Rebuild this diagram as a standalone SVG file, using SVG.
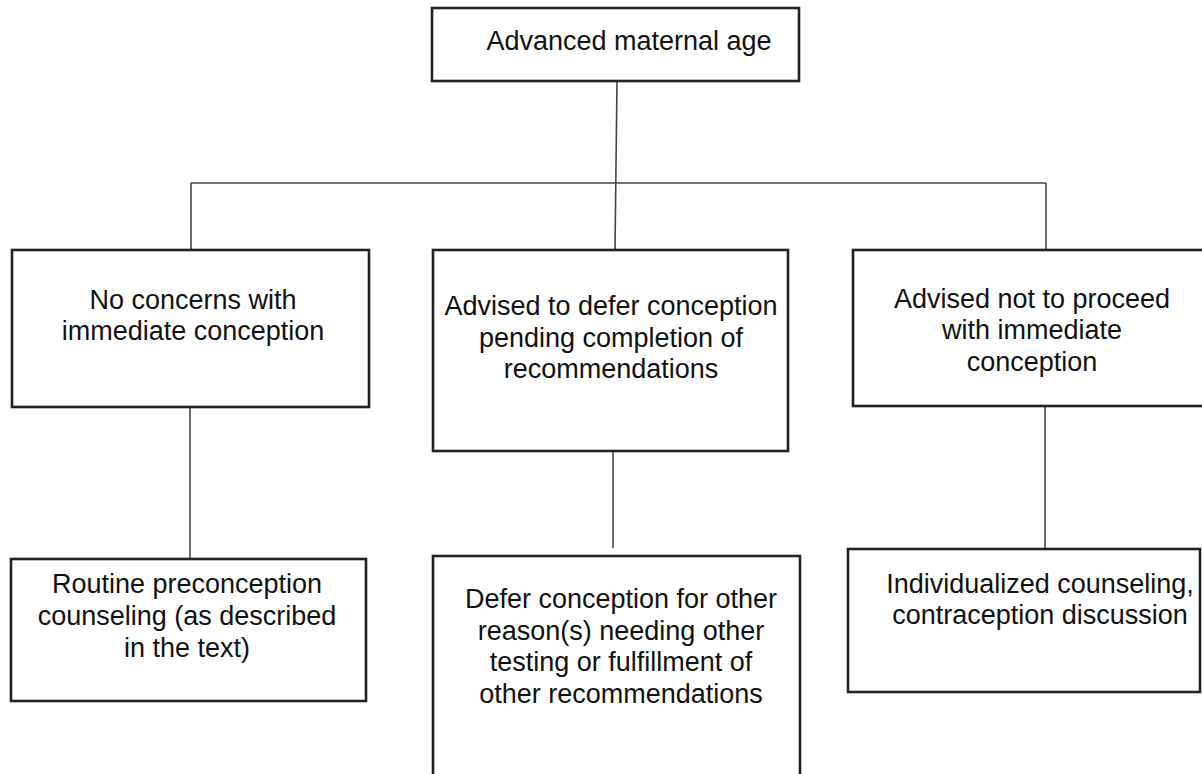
<svg xmlns="http://www.w3.org/2000/svg" width="1202" height="774" viewBox="0 0 1202 774">
<style>
.box{fill:#fff;stroke:#222;stroke-width:2.6}
.lbl{font-family:"Liberation Sans",Arial,sans-serif;font-size:27px;fill:#111;text-anchor:middle}
.con{fill:none;stroke:#444;stroke-width:1.6}
</style>
<rect width="1202" height="774" fill="#fff"/>
<g id="connectors">
<path class="con" d="M617,81 L615,250"/>
<path class="con" d="M191,183 H1046"/>
<path class="con" d="M191,183 V250"/>
<path class="con" d="M1046,183 V250"/>
<path class="con" d="M190,407 V559"/>
<path class="con" d="M613,452 V548"/>
<path class="con" d="M1045,407 V549"/>
</g>
<g id="n-top">
<rect class="box" x="432" y="8" width="367" height="73"/>
<text class="lbl" x="629" y="50">Advanced maternal age</text>
</g>
<g id="n-no-concerns">
<rect class="box" x="12" y="250" width="357" height="157"/>
<text class="lbl" x="193" y="309">No concerns with</text>
<text class="lbl" x="193" y="340">immediate conception</text>
</g>
<g id="n-defer">
<rect class="box" x="433" y="250" width="355" height="201"/>
<text class="lbl" x="611" y="315">Advised to defer conception</text>
<text class="lbl" x="611" y="347">pending completion of</text>
<text class="lbl" x="611" y="378">recommendations</text>
</g>
<g id="n-not-proceed">
<rect class="box" x="853" y="250" width="362" height="156"/>
<text class="lbl" x="1032" y="308">Advised not to proceed</text>
<text class="lbl" x="1032" y="339">with immediate</text>
<text class="lbl" x="1032" y="371">conception</text>
</g>
<g id="n-routine">
<rect class="box" x="11" y="559" width="355" height="142"/>
<text class="lbl" x="187" y="593">Routine preconception</text>
<text class="lbl" x="187" y="625">counseling (as described</text>
<text class="lbl" x="187" y="657">in the text)</text>
</g>
<g id="n-defer-other">
<rect class="box" x="433" y="556" width="367" height="240"/>
<text class="lbl" x="621" y="608">Defer conception for other</text>
<text class="lbl" x="621" y="640">reason(s) needing other</text>
<text class="lbl" x="621" y="671">testing or fulfillment of</text>
<text class="lbl" x="621" y="703">other recommendations</text>
</g>
<g id="n-individualized">
<rect class="box" x="848" y="549" width="352" height="143"/>
<text class="lbl" x="1040" y="593">Individualized counseling,</text>
<text class="lbl" x="1040" y="624">contraception discussion</text>
</g>
</svg>
